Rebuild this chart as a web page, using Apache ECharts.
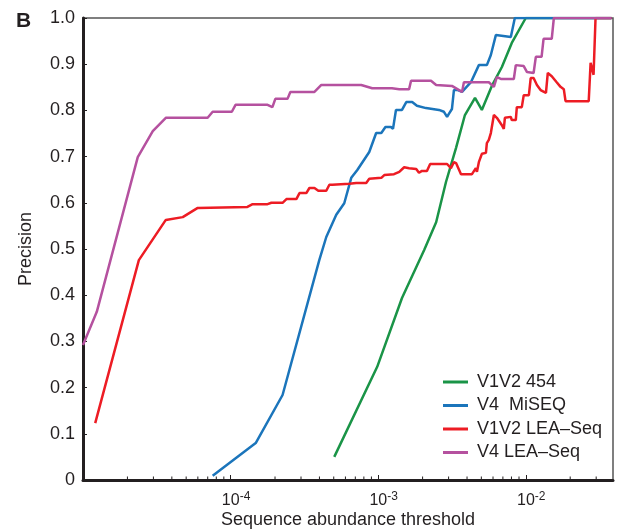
<!DOCTYPE html>
<html>
<head>
<meta charset="utf-8">
<script src="https://cdn.jsdelivr.net/npm/echarts@6/dist/echarts.min.js"></script>
<style>
  html, body { margin: 0; padding: 0; background: #fff; }
  #main { width: 623px; height: 530px; }
</style>
</head>
<body>
<div id="main"></div>
<script>
// sequence abundance threshold (x) and precision (y)
const greenX = [5.04e-4, 9.85e-4, 1.45e-3, 2.05e-3, 2.47e-3, 2.88e-3, 3.37e-3, 3.87e-3, 4.53e-3, 5.04e-3, 5.89e-3, 6.89e-3, 8.04e-3, 1.0e-2, 3.81e-2];
const greenY = [0.050, 0.245, 0.394, 0.498, 0.558, 0.645, 0.719, 0.790, 0.827, 0.801, 0.853, 0.894, 0.946, 1.0, 1.0];

const blueX = [7.56e-5, 1.48e-4, 2.25e-4, 3.99e-4, 4.45e-4, 5.20e-4, 5.89e-4, 6.57e-4, 7.22e-4, 8.70e-4, 9.69e-4,
  1.05e-3, 1.12e-3, 1.22e-3, 1.26e-3, 1.32e-3, 1.45e-3, 1.55e-3, 1.70e-3, 1.83e-3, 2.11e-3, 2.58e-3, 2.79e-3,
  2.93e-3, 3.02e-3, 3.16e-3, 3.26e-3, 3.47e-3, 3.70e-3, 4.25e-3, 4.81e-3, 5.45e-3, 5.80e-3, 6.27e-3, 7.92e-3,
  8.43e-3, 3.81e-2];
const blueY = [0.009, 0.080, 0.184, 0.476, 0.526, 0.574, 0.599, 0.654, 0.671, 0.710, 0.751,
  0.751, 0.764, 0.764, 0.760, 0.801, 0.801, 0.818, 0.818, 0.810, 0.805, 0.801, 0.797,
  0.786, 0.793, 0.803, 0.844, 0.844, 0.840, 0.861, 0.898, 0.898, 0.920, 0.963, 0.959,
  1.0, 1.0];

const redX = [1.21e-5, 2.39e-5, 3.64e-5, 4.74e-5, 5.99e-5, 1.30e-4, 1.41e-4, 1.78e-4, 1.89e-4, 2.25e-4, 2.39e-4,
  2.79e-4, 2.93e-4, 3.26e-4, 3.42e-4, 3.70e-4, 3.93e-4, 4.45e-4, 4.67e-4, 4.89e-4, 6.37e-4, 7.10e-4, 8.30e-4,
  8.70e-4, 1.05e-3, 1.10e-3, 1.28e-3, 1.39e-3, 1.50e-3, 1.62e-3, 1.81e-3, 1.89e-3, 1.98e-3, 2.14e-3, 2.25e-3,
  2.93e-3, 3.11e-3, 3.26e-3, 3.37e-3, 3.64e-3, 4.32e-3, 4.59e-3, 4.67e-3, 4.81e-3, 5.04e-3, 5.37e-3, 5.45e-3,
  5.62e-3, 5.80e-3, 5.89e-3, 6.08e-3, 6.37e-3, 6.89e-3, 7.10e-3, 7.22e-3, 7.92e-3, 8.04e-3, 8.56e-3, 8.70e-3,
  9.40e-3, 9.69e-3, 1.05e-2, 1.08e-2, 1.13e-2, 1.19e-2, 1.26e-2, 1.37e-2, 1.41e-2, 1.50e-2, 1.62e-2, 1.72e-2,
  1.81e-2, 1.86e-2, 2.67e-2, 2.75e-2, 2.88e-2, 2.97e-2, 3.81e-2];
const redY = [0.123, 0.476, 0.563, 0.569, 0.589, 0.591, 0.597, 0.597, 0.600, 0.600, 0.608,
  0.608, 0.621, 0.621, 0.632, 0.632, 0.626, 0.626, 0.639, 0.639, 0.641, 0.643, 0.643,
  0.652, 0.654, 0.660, 0.662, 0.667, 0.677, 0.675, 0.673, 0.665, 0.669, 0.669, 0.684,
  0.684, 0.675, 0.688, 0.686, 0.662, 0.662, 0.675, 0.667, 0.688, 0.706, 0.708, 0.729,
  0.736, 0.751, 0.751, 0.790, 0.784, 0.768, 0.760, 0.784, 0.786, 0.779, 0.779, 0.807,
  0.807, 0.833, 0.833, 0.870, 0.870, 0.855, 0.844, 0.838, 0.881, 0.874, 0.861, 0.851,
  0.846, 0.820, 0.820, 0.903, 0.877, 1.0, 1.0];

const purpleX = [1.0e-5, 1.24e-5, 2.35e-5, 2.97e-5, 3.64e-5, 6.99e-5, 7.56e-5, 1.02e-4, 1.08e-4, 1.78e-4, 1.92e-4,
  2.01e-4, 2.43e-4, 2.54e-4, 3.70e-4, 3.81e-4, 4.12e-4, 7.68e-4, 9.11e-4, 1.24e-3, 1.39e-3, 1.62e-3, 1.67e-3,
  2.28e-3, 2.47e-3, 3.16e-3, 3.70e-3, 3.81e-3, 5.62e-3, 6.08e-3, 6.37e-3, 6.78e-3, 8.30e-3, 8.56e-3, 9.69e-3,
  1.02e-2, 1.13e-2, 1.17e-2, 1.28e-2, 1.32e-2, 1.50e-2, 1.55e-2, 3.81e-2];
const purpleY = [0.292, 0.364, 0.699, 0.755, 0.784, 0.784, 0.797, 0.797, 0.812, 0.812, 0.807,
  0.825, 0.825, 0.840, 0.840, 0.838, 0.855, 0.855, 0.848, 0.848, 0.846, 0.846, 0.864,
  0.864, 0.855, 0.853, 0.840, 0.861, 0.861, 0.851, 0.872, 0.868, 0.868, 0.898, 0.896,
  0.883, 0.881, 0.916, 0.916, 0.955, 0.955, 1.0, 1.0];

const seriesNames = ["V1V2 454", "V4  MiSEQ", "V1V2 LEA\u2013Seq", "V4 LEA\u2013Seq"];
const seriesColors = ["#1a9447", "#1b75bb", "#ed1c24", "#b5519f"];

// minor ticks of the log axis (2..9 x 10^n)
const minorTicks = [2e-5, 3e-5, 4e-5, 5e-5, 6e-5, 7e-5, 8e-5, 9e-5,
  2e-4, 3e-4, 4e-4, 5e-4, 6e-4, 7e-4, 8e-4, 9e-4,
  2e-3, 3e-3, 4e-3, 5e-3, 6e-3, 7e-3, 8e-3, 9e-3,
  2e-2, 3e-2];

const FONT = "Liberation Sans";
const INK = "#231f20";

const pairs = (xs, ys) => xs.map((x, i) => [x, ys[i]]);
const allData = [
  pairs(greenX, greenY),
  pairs(blueX, blueY),
  pairs(redX, redY),
  pairs(purpleX, purpleY),
];

const chart = echarts.init(document.getElementById("main"));

const option = {
  animation: false,
  title: {
    text: "B",
    left: 11,
    top: 6,
    textStyle: { fontFamily: FONT, fontSize: 21, fontWeight: "bold", color: INK },
  },
  grid: {
    left: 83,
    top: 18,
    right: 10,
    bottom: 50,
    outerBoundsMode: "none",
    containLabel: false,
    show: true,
    borderColor: "#555",
    borderWidth: 1.5,
  },
  legend: {
    orient: "vertical",
    left: 443,
    top: 372,
    padding: 0,
    itemWidth: 25,
    itemHeight: 3,
    itemGap: 3.5,
    icon: "rect",
    data: seriesNames,
    textStyle: { fontFamily: FONT, fontSize: 18, color: INK, lineHeight: 20, padding: [0, 0, 0, 4] },
  },
  xAxis: {
    type: "log",
    min: 1e-5,
    max: 0.039,
    logBase: 10,
    name: "Sequence abundance threshold",
    nameLocation: "middle",
    nameGap: 31,
    nameMoveOverlap: false,
    nameTextStyle: { fontFamily: FONT, fontSize: 18, color: INK },
    axisLine: { show: true, lineStyle: { color: INK, width: 3 } },
    axisTick: { show: true, inside: true, length: 5, lineStyle: { color: INK, width: 1 } },
    splitLine: { show: false },
    axisLabel: {
      margin: 11,
      padding: [0, 0, 0, 11],
      showMinLabel: false,
      showMaxLabel: false,
      formatter: (v) => {
        const l = Math.log10(v);
        const e = Math.round(l);
        if (e <= -5 || Math.abs(l - e) > 1e-6) return "";
        return "{b|10}{s|" + e + "}";
      },
      rich: {
        b: { fontFamily: FONT, fontSize: 16, color: INK },
        s: { fontFamily: FONT, fontSize: 12, color: INK, padding: [0, 0, 8, 0] },
      },
    },
  },
  yAxis: {
    type: "value",
    min: 0,
    max: 1,
    interval: 0.1,
    name: "Precision",
    nameLocation: "middle",
    nameGap: 48,
    nameTextStyle: { fontFamily: FONT, fontSize: 18, color: INK },
    axisLine: { show: true, lineStyle: { color: INK, width: 3 } },
    axisTick: { show: true, inside: true, length: 4, lineStyle: { color: INK, width: 1 } },
    splitLine: { show: false },
    axisLabel: {
      margin: 8,
      fontFamily: FONT,
      fontSize: 18,
      color: INK,
      formatter: (v) => (v === 0 ? "0" : v.toFixed(1)),
    },
  },
  series: [
    {
      type: "custom",
      silent: true,
      z: 3,
      data: minorTicks.map((v) => [v, 0]),
      renderItem: (params, api) => {
        const p = api.coord([api.value(0), 0]);
        return {
          type: "line",
          shape: { x1: p[0], y1: p[1], x2: p[0], y2: p[1] - 3.5 },
          style: { stroke: INK, lineWidth: 1 },
        };
      },
    },
    ...allData.map((d, i) => ({
      name: seriesNames[i],
      type: "line",
      data: d,
      symbol: "none",
      smooth: false,
      color: seriesColors[i],
      lineStyle: { color: seriesColors[i], width: 2.5 },
      z: 2 + i,
    })),
  ],
};

chart.setOption(option);
</script>
</body>
</html>
